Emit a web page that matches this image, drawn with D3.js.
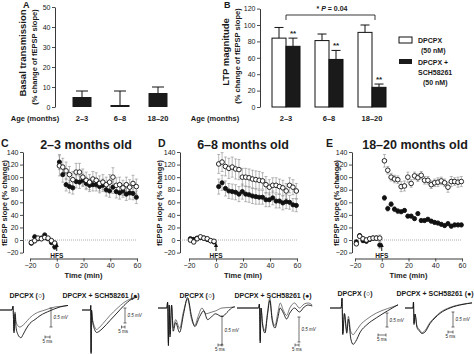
<!DOCTYPE html>
<html><head><meta charset="utf-8">
<script src="https://cdn.jsdelivr.net/npm/d3@7"></script>
<style>
body{margin:0;background:#fff}
svg{display:block}
text{font-family:"Liberation Sans",Arial,sans-serif;fill:#1a1a1a}
</style></head>
<body><svg id="c" width="474" height="354"></svg>
<script>
// ================= DATA =================
const ageGroups = ["2–3", "6–8", "18–20"];
// Panel A: basal transmission
const basalMean = [5, 1, 7];
const basalErr = [3, 7, 3];
const basalTicks = [0, 10, 20, 30, 40, 50];
// Panel B: LTP magnitude
const ltpSeries = ["DPCPX", "DPCPX + SCH58261"];
const ltpDPCPX = [84, 81, 91];
const ltpDPCPXErr = [13, 8, 9];
const ltpSCH = [74, 58, 24];
const ltpSCHErr = [10, 11, 4];
const ltpStars = ["**", "**", "**"];
const ltpTicks = [0, 20, 40, 60, 80, 100, 120];
// Panels C-E: time courses
const slopeTicks = [-20, 0, 20, 40, 60, 80, 100, 120, 140];
const timeTicks = [-20, 0, 20, 40, 60];
const baseTime = [-19, -16.5, -14, -11.5, -9, -6.5, -4, -1.5];
const postTime = [2, 4.5, 7, 9.5, 12, 14.5, 17, 19.5, 22, 24.5, 27, 29.5, 32, 34.5, 37, 39.5, 42, 44.5, 47, 49.5, 52, 54.5, 57, 59.5];

const c23OpenBase = [-4, -1, 3, 2, 4, 3, -1, -5];
const c23FillBase = [-5, 5, 2, 3, 8, 2, -4, -11];
const c23BaseErr = [3, 4, 3, 3, 3, 3, 3, 4];
const c23OpenPost = [118, 116, 110, 104, 96, 108, 108, 100, 95, 92, 97, 95, 90, 92, 88, 92, 100, 87, 88, 83, 88, 84, 90, 85];
const c23OpenErr = [16, 14, 14, 13, 13, 14, 14, 13, 13, 12, 12, 12, 12, 12, 12, 12, 15, 12, 12, 12, 12, 12, 13, 12];
const c23FillPost = [124, 104, 88, 85, 83, 93, 92, 95, 90, 87, 88, 88, 85, 87, 80, 78, 84, 77, 75, 78, 73, 75, 74, 68];
const c23FillErr = [12, 12, 10, 10, 10, 10, 10, 10, 10, 10, 10, 10, 10, 10, 10, 10, 10, 10, 10, 10, 10, 10, 10, 10];

const d68OpenBase = [0, -3, 2, 5, 3, 2, -1, -2];
const d68FillBase = [2, 1, 3, 4, 3, 1, -1, -3];
const d68BaseErr = [3, 3, 3, 3, 3, 3, 3, 3];
const d68OpenPost = [121, 124, 117, 114, 116, 113, 112, 100, 100, 99, 97, 96, 95, 94, 88, 84, 87, 87, 85, 83, 78, 87, 84, 78];
const d68OpenErr = [15, 15, 15, 16, 16, 16, 16, 14, 14, 14, 14, 14, 14, 13, 13, 12, 12, 12, 12, 12, 12, 12, 12, 12];
const d68FillPost = [85, 91, 82, 78, 77, 76, 73, 77, 73, 72, 70, 69, 68, 68, 64, 64, 67, 62, 62, 59, 61, 60, 56, 55];
const d68FillErr = [12, 12, 12, 12, 12, 12, 12, 12, 12, 12, 12, 12, 11, 11, 11, 11, 11, 11, 11, 11, 11, 11, 10, 10];

const e1820OpenBase = [-6, 6, 2, 0, 2, 3, 3, 3];
const e1820FillBase = [-3, 7, -1, -2, 1, 3, 3, -8];
const e1820BaseErr = [3, 3, 3, 3, 3, 3, 3, 5];
const e1820OpenPost = [126, 111, 100, 97, 96, 85, 86, 100, 90, 102, 99, 103, 95, 95, 88, 91, 92, 94, 91, 84, 93, 93, 92, 93];
const e1820OpenErr = [10, 6, 6, 6, 6, 8, 8, 8, 6, 6, 6, 6, 6, 6, 6, 6, 7, 6, 6, 8, 8, 6, 8, 8];
const e1820FillPost = [67, 50, 57, 49, 46, 45, 47, 38, 38, 34, 42, 31, 31, 33, 30, 28, 27, 25, 23, 26, 22, 24, 24, 24];
const e1820FillErr = [4, 4, 4, 4, 4, 3, 3, 3, 3, 3, 3, 3, 3, 3, 3, 3, 3, 3, 3, 3, 3, 3, 3, 3];

// Representative fEPSP traces: [time (ms), amplitude (mV)]
const traceC1base = [[0,0],[12,0],[13,0.1],[14,-0.55],[15,-0.05],[16,-0.3],[18,-0.42],[20,-0.45],[22,-0.42],[25,-0.35],[30,-0.2],[35,-0.1],[45,0],[55,0.08],[63,0.1],[68,0.12]];
const traceC1post = [[0,0],[12,0],[13,0.1],[14,-0.6],[15,-0.1],[16,-0.45],[18,-0.65],[20,-0.72],[21,-0.73],[23,-0.65],[26,-0.5],[30,-0.35],[35,-0.25],[40,-0.15],[50,-0.02],[60,0.08],[68,0.12]];
const traceC2base = [[0,0],[12,0],[12.5,0.15],[13,-1.4],[13.5,0],[15,-0.3],[18,-0.55],[21,-0.65],[24,-0.6],[30,-0.45],[40,-0.18],[50,0.05],[60,0.25],[70,0.38],[79,0.43]];
const traceC2post = [[0,0],[12,0],[12.5,0.15],[13,-1.45],[13.5,0],[15,-0.35],[18,-0.65],[21,-0.75],[24,-0.72],[30,-0.6],[40,-0.35],[50,-0.1],[60,0.15],[70,0.35],[79,0.43]];
const traceD1base = [[0,0],[11,0],[12,0.1],[13,-0.6],[14,0.05],[15,-0.45],[17,0.05],[19,-0.35],[22,-0.2],[27,-0.35],[32,-0.05],[37,0.15],[42,-0.2],[46,-0.3],[50,-0.15],[55,0],[60,-0.1],[65,-0.08],[72,-0.05],[80,0],[90,0.01],[96,0.02]];
const traceD1post = [[0,0],[11,0],[12,0.1],[13,-0.65],[14,0.05],[15,-0.5],[17,0.05],[19,-0.4],[22,-0.25],[27,-0.42],[32,-0.1],[37,0.18],[42,-0.15],[46,-0.32],[52,-0.15],[57,-0.05],[62,-0.2],[67,-0.15],[72,-0.1],[80,-0.15],[86,-0.08],[92,0],[96,0.02]];
const traceD2base = [[0,0],[27,0],[28,0.08],[29,-0.65],[30,0],[32,-0.3],[35,-0.45],[38,-0.1],[41,0.2],[44,-0.2],[47.5,-0.35],[51,-0.1],[54,0.1],[58,-0.05],[62,-0.15],[66,0],[72,0.1],[78,0],[84,0.08],[89,0.1],[94,0.06]];
const traceD2post = [[0,0],[27,0],[28,0.08],[29,-0.7],[30,0],[32,-0.35],[35,-0.5],[38,-0.15],[41,0.15],[44,-0.25],[47.5,-0.4],[51,-0.2],[54,0],[58,-0.1],[62,-0.22],[66,-0.1],[72,0],[78,-0.08],[84,0.02],[89,0.06],[94,0.04]];
const traceE1base = [[0,0],[7,0],[7.5,0.35],[8,-0.9],[9,-0.2],[10.5,-0.8],[11.5,-0.3],[13,-0.85],[14.5,-0.95],[16,-0.85],[19,-0.6],[23,-0.4],[29,-0.18],[36,-0.02],[42.5,0.1]];
const traceE1post = [[0,0],[7,0],[7.5,0.35],[8,-0.95],[9,-0.2],[10.5,-0.9],[11.5,-0.4],[13,-1.1],[14.5,-1.3],[16,-1.2],[19,-0.85],[23,-0.6],[29,-0.35],[36,-0.1],[42.5,0.12]];
const traceE2base = [[0,0],[8,0],[8.5,0.2],[9,-0.5],[10,-0.2],[12,-0.6],[14,-0.7],[17,-0.82],[20,-0.75],[25,-0.48],[30,-0.3],[35,-0.15],[45,0.02],[58,0.13],[67,0.17]];
const traceE2post = [[0,0],[8,0],[8.5,0.2],[9,-0.55],[10,-0.2],[12,-0.65],[14,-0.75],[17,-0.85],[20,-0.8],[25,-0.52],[30,-0.33],[35,-0.18],[45,0],[58,0.12],[67,0.17]];

// ================= DRAWING =================
const svg = d3.select("#c");

function styleAxis(g, fs) {
  g.selectAll("path.domain").attr("stroke", "#222").attr("stroke-width", 0.9);
  g.selectAll(".tick line").attr("stroke", "#222").attr("stroke-width", 0.8);
  g.selectAll(".tick text").attr("font-size", fs).attr("fill", "#222")
    .attr("font-family", "Liberation Sans, Arial, sans-serif");
}
function rotLabel(x, y, txt, fs, weight) {
  svg.append("text").attr("transform", `translate(${x},${y}) rotate(-90)`)
    .attr("text-anchor", "middle").attr("font-size", fs).attr("font-weight", weight || "normal").text(txt);
}
function txt(x, y, t, fs, anchor, weight) {
  return svg.append("text").attr("x", x).attr("y", y).attr("font-size", fs)
    .attr("text-anchor", anchor || "start").attr("font-weight", weight || "normal").text(t);
}

// ---------- Panel A ----------
const yA = d3.scaleLinear([0, 50], [107, 7]);
const xA = d3.scaleBand(ageGroups, [63, 177]).paddingInner(0.5).paddingOuter(0.25);
const axA = svg.append("g").attr("transform", "translate(55,0)")
  .call(d3.axisLeft(yA).tickValues(basalTicks).tickSize(3).tickSizeOuter(0).tickPadding(1.5));
styleAxis(axA, 7);
txt(23, 8, "A", 9, "start", "bold");
rotLabel(26, 53, "Basal transmission", 9.5, "bold");
rotLabel(37, 57, "(% change of fEPSP slope)", 7.5, "bold");
ageGroups.forEach((g, i) => {
  const x0 = xA(g), w = xA.bandwidth(), cx = x0 + w / 2;
  svg.append("rect").attr("x", x0).attr("y", yA(basalMean[i])).attr("width", w)
    .attr("height", yA(0) - yA(basalMean[i])).attr("fill", "#1a1a1a");
  const top = yA(basalMean[i] + basalErr[i]);
  svg.append("line").attr("x1", cx).attr("x2", cx).attr("y1", yA(Math.max(basalMean[i], 0))).attr("y2", top).attr("stroke", "#111").attr("stroke-width", 1);
  svg.append("line").attr("x1", cx - 6).attr("x2", cx + 6).attr("y1", top).attr("y2", top).attr("stroke", "#111").attr("stroke-width", 1);
  txt(cx, 121, g, 7.5, "middle", "bold");
});
txt(35, 121, "Age (months)", 7.5, "middle", "bold");

// ---------- Panel B ----------
const yB = d3.scaleLinear([0, 120], [107, 8.6]);
const xB = d3.scaleBand(ageGroups, [264.5, 393.5]).paddingInner(15 / 43).paddingOuter(15 / 86);
const xBs = d3.scaleBand(ltpSeries, [0, xB.bandwidth()]);
const axB = svg.append("g").attr("transform", "translate(260,0)")
  .call(d3.axisLeft(yB).tickValues(ltpTicks).tickSize(3).tickSizeOuter(0).tickPadding(1.5));
styleAxis(axB, 7);
txt(224, 8, "B", 9, "start", "bold");
rotLabel(229, 52, "LTP magnitude", 9.5, "bold");
rotLabel(240, 56, "(% change of fEPSP slope)", 7.5, "bold");
const ltpVals = [ltpDPCPX, ltpSCH], ltpErrs = [ltpDPCPXErr, ltpSCHErr];
ageGroups.forEach((g, i) => {
  ltpSeries.forEach((s, j) => {
    const x0 = xB(g) + xBs(s), w = xBs.bandwidth(), cx = x0 + w / 2;
    const v = ltpVals[j][i], e = ltpErrs[j][i];
    svg.append("rect").attr("x", x0).attr("y", yB(v)).attr("width", w).attr("height", yB(0) - yB(v))
      .attr("fill", j === 0 ? "#fff" : "#1a1a1a").attr("stroke", "#111").attr("stroke-width", 1);
    svg.append("line").attr("x1", cx).attr("x2", cx).attr("y1", yB(v)).attr("y2", yB(v + e)).attr("stroke", "#111").attr("stroke-width", 1);
    svg.append("line").attr("x1", cx - 4.5).attr("x2", cx + 4.5).attr("y1", yB(v + e)).attr("y2", yB(v + e)).attr("stroke", "#111").attr("stroke-width", 1);
    if (j === 1) txt(cx, yB(v + e) - 2, ltpStars[i], 8, "middle", "bold").attr("fill", "#555");
  });
  txt(xB(g) + xB.bandwidth() / 2, 121, g, 7.5, "middle", "bold");
});
txt(215, 121, "Age (months)", 7.5, "middle", "bold");
// significance bracket
{
  const xl = xB(ageGroups[0]) + xB.bandwidth() / 2, xr = xB(ageGroups[2]) + xB.bandwidth() / 2 + 3;
  svg.append("path").attr("d", `M${xl},20 V15 H${xr} V20`).attr("fill", "none").attr("stroke", "#222").attr("stroke-width", 0.9);
  const t = txt(332, 11, "", 7, "middle", "bold");
  t.append("tspan").text("* ");
  t.append("tspan").attr("font-style", "italic").text("P");
  t.append("tspan").text(" = 0.04");
}
// legend
svg.append("rect").attr("x", 399).attr("y", 37).attr("width", 13).attr("height", 6).attr("fill", "#fff").attr("stroke", "#111").attr("stroke-width", 1);
txt(418, 43, "DPCPX", 7, "start", "bold");
txt(421, 53, "(50 nM)", 7, "start", "bold");
svg.append("rect").attr("x", 399).attr("y", 59).attr("width", 13).attr("height", 5).attr("fill", "#1a1a1a");
txt(418, 65, "DPCPX +", 7, "start", "bold");
txt(418, 75, "SCH58261", 7, "start", "bold");
txt(423, 85, "(50 nM)", 7, "start", "bold");

// ---------- Panels C, D, E ----------
const courses = [
  { letter: "C", lx: 1, title: "2–3 months old", tx: 86, yAxisX: 23, x0: 30, x1: 137, ylabX: 7,
    ob: c23OpenBase, fb: c23FillBase, be: c23BaseErr, op: c23OpenPost, oe: c23OpenErr, fp: c23FillPost, fe: c23FillErr },
  { letter: "D", lx: 158, title: "6–8 months old", tx: 243, yAxisX: 180, x0: 189, x1: 297, ylabX: 162,
    ob: d68OpenBase, fb: d68FillBase, be: d68BaseErr, op: d68OpenPost, oe: d68OpenErr, fp: d68FillPost, fe: d68FillErr },
  { letter: "E", lx: 326, title: "18–20 months old", tx: 415, yAxisX: 352, x0: 355, x1: 462, ylabX: 339,
    ob: e1820OpenBase, fb: e1820FillBase, be: e1820BaseErr, op: e1820OpenPost, oe: e1820OpenErr, fp: e1820FillPost, fe: e1820FillErr }
];
courses.forEach(cfg => {
  const x = d3.scaleLinear([-20, 60], [cfg.x0, cfg.x1]);
  const y = d3.scaleLinear([-20, 140], [252.6, 152]);
  const ay = svg.append("g").attr("transform", `translate(${cfg.yAxisX},0)`)
    .call(d3.axisLeft(y).tickValues(slopeTicks).tickSize(3).tickSizeOuter(0).tickPadding(1.5));
  styleAxis(ay, 7);
  const ax = svg.append("g").attr("transform", "translate(0,258.5)")
    .call(d3.axisBottom(x).tickValues(timeTicks).tickSize(3).tickSizeOuter(0).tickPadding(1.5));
  styleAxis(ax, 7);
  txt(cfg.lx, 146.5, cfg.letter, 10.5, "start", "bold");
  txt(cfg.tx, 149, cfg.title, 12.5, "middle", "bold");
  rotLabel(cfg.ylabX, 203, "fEPSP slope (% change)", 7.5, "bold");
  txt((cfg.x0 + cfg.x1) / 2, 278, "Time (min)", 7.5, "middle", "bold");
  // zero line
  svg.append("line").attr("x1", cfg.yAxisX).attr("x2", x(60)).attr("y1", y(0)).attr("y2", y(0))
    .attr("stroke", "#888").attr("stroke-width", 0.7).attr("stroke-dasharray", "1,1");
  const series = [
    { t: baseTime, v: cfg.fb, e: cfg.be, open: false },
    { t: postTime, v: cfg.fp, e: cfg.fe, open: false },
    { t: baseTime, v: cfg.ob, e: cfg.be, open: true },
    { t: postTime, v: cfg.op, e: cfg.oe, open: true }
  ];
  const eg = svg.append("g").attr("stroke", "#8a8a8a").attr("stroke-width", 0.6);
  series.forEach(s => s.t.forEach((t, i) => {
    const cx = x(t), y1 = y(s.v[i] + s.e[i]), y2 = y(s.v[i] - s.e[i]);
    eg.append("line").attr("x1", cx).attr("x2", cx).attr("y1", y1).attr("y2", y2);
    eg.append("line").attr("x1", cx - 1.5).attr("x2", cx + 1.5).attr("y1", y1).attr("y2", y1);
    eg.append("line").attr("x1", cx - 1.5).attr("x2", cx + 1.5).attr("y1", y2).attr("y2", y2);
  }));
  series.forEach(s => s.t.forEach((t, i) => {
    svg.append("circle").attr("cx", x(t)).attr("cy", y(s.v[i])).attr("r", s.open ? 2.3 : 2.1)
      .attr("fill", s.open ? "#fff" : "#111").attr("stroke", "#111").attr("stroke-width", 0.9);
  }));
  // HFS arrow
  const ax0 = x(0);
  svg.append("line").attr("x1", ax0).attr("x2", ax0).attr("y1", 251).attr("y2", 246).attr("stroke", "#111").attr("stroke-width", 1);
  svg.append("path").attr("d", `M${ax0 - 2},${247} L${ax0},${242.5} L${ax0 + 2},${247} Z`).attr("fill", "#111");
  txt(ax0, 257.5, "HFS", 6.5, "middle", "bold");
});

// ---------- Example traces ----------
const tracePanels = [
  { label: "DPCPX (○)", lx: 27, ly: 298, x0: 0, pxMs: 1, y0: 310, pxMv: 38, base: traceC1base, post: traceC1post, vb: [51, 308], hb: [45, 337] },
  { label: "DPCPX + SCH58261 (●)", lx: 101, ly: 298, x0: 82, pxMs: 0.7, y0: 310, pxMv: 30, base: traceC2base, post: traceC2post, vb: [125, 308], hb: [121.5, 327] },
  { label: "DPCPX (○)", lx: 197, ly: 298, x0: 158, pxMs: 0.8, y0: 308, pxMv: 58, base: traceD1base, post: traceD1post, vb: [222, 316], hb: [218, 345] },
  { label: "DPCPX + SCH58261 (●)", lx: 273, ly: 298, x0: 237, pxMs: 0.8, y0: 308, pxMv: 50, base: traceD2base, post: traceD2post, vb: [299, 317], hb: [295, 345] },
  { label: "DPCPX (○)", lx: 355, ly: 296, x0: 330, pxMs: 1.6, y0: 308, pxMv: 28, base: traceE1base, post: traceE1post, vb: [387, 313], hb: [378, 335] },
  { label: "DPCPX + SCH58261 (●)", lx: 435, ly: 296, x0: 405, pxMs: 1, y0: 308, pxMv: 30, base: traceE2base, post: traceE2post, vb: [453, 312], hb: [448, 332] }
];
tracePanels.forEach(p => {
  const tx = d3.scaleLinear([0, 1], [p.x0, p.x0 + p.pxMs]);
  const ty = d3.scaleLinear([0, 1], [p.y0, p.y0 - p.pxMv]);
  const line = d3.line().x(d => tx(d[0])).y(d => ty(d[1])).curve(d3.curveMonotoneX);
  svg.append("path").attr("d", line(p.base)).attr("fill", "none").attr("stroke", "#444").attr("stroke-width", 0.7);
  svg.append("path").attr("d", line(p.post)).attr("fill", "none").attr("stroke", "#111").attr("stroke-width", 0.9);
  txt(p.lx, p.ly, p.label, 7, "middle", "bold");
  // vertical scale bar 0.5 mV
  const vh = ty(0) - ty(0.5);
  const [vx, vy] = p.vb;
  svg.append("path").attr("d", `M${vx - 1.5},${vy} H${vx + 1.5} M${vx},${vy} V${vy + vh} M${vx - 1.5},${vy + vh} H${vx + 1.5}`)
    .attr("stroke", "#333").attr("stroke-width", 0.7).attr("fill", "none");
  txt(vx + 2.5, vy + vh / 2 + 1.5, "0.5 mV", 4.5, "start").attr("font-style", "italic");
  // horizontal scale bar 5 ms
  const hw = tx(5) - tx(0);
  const [hx, hy] = p.hb;
  svg.append("path").attr("d", `M${hx},${hy - 1.5} V${hy + 1.5} M${hx},${hy} H${hx + hw} M${hx + hw},${hy - 1.5} V${hy + 1.5}`)
    .attr("stroke", "#333").attr("stroke-width", 0.7).attr("fill", "none");
  txt(hx + hw / 2, hy + 5.5, "5 ms", 4.5, "middle");
});
</script></body></html>
